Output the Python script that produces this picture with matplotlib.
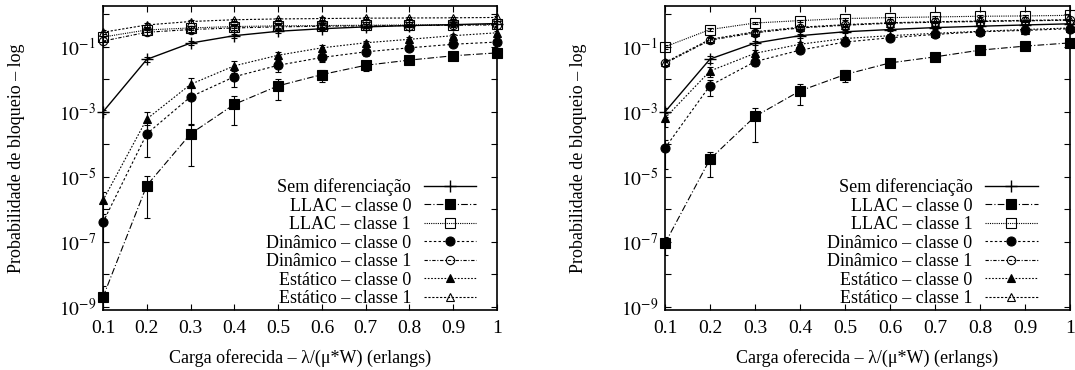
import numpy as np
import matplotlib
matplotlib.use("Agg")
import matplotlib.pyplot as plt
from matplotlib.ticker import FixedLocator, FuncFormatter, NullLocator

# ---------------- data ----------------
carga = [0.1, 0.2, 0.3, 0.4, 0.5, 0.6, 0.7, 0.8, 0.9, 1.0]
xtick_labels = ["0.1", "0.2", "0.3", "0.4", "0.5", "0.6", "0.7", "0.8", "0.9", "1"]
series_names = ["Sem diferenciação", "LLAC – classe 0", "LLAC – classe 1",
                "Dinâmico – classe 0", "Dinâmico – classe 1",
                "Estático – classe 0", "Estático – classe 1"]

# left panel
esq_sem = [1e-3, 0.041, 0.13, 0.22, 0.30, 0.36, 0.41, 0.45, 0.48, 0.52]
esq_llac0 = [2e-9, 5.4e-6, 2.1e-4, 1.7e-3, 6.3e-3, 0.014, 0.027, 0.039, 0.053, 0.065]
esq_llac1 = [0.20, 0.33, 0.38, 0.42, 0.44, 0.45, 0.46, 0.47, 0.48, 0.49]
esq_din0 = [4e-7, 2.1e-4, 2.9e-3, 0.012, 0.027, 0.047, 0.070, 0.093, 0.12, 0.14]
esq_din1 = [0.15, 0.28, 0.34, 0.38, 0.41, 0.43, 0.44, 0.45, 0.46, 0.47]
esq_est0 = [1.9e-6, 6e-4, 7e-3, 0.026, 0.055, 0.093, 0.133, 0.17, 0.22, 0.27]
esq_est1 = [0.28, 0.47, 0.60, 0.68, 0.72, 0.74, 0.76, 0.77, 0.78, 0.80]

esq_err_sem = [1.5e-4, 0.008, 0.02, 0.03, 0.03, 0.03, 0.03, 0.03, 0.03, 0.03]
esq_err_llac0 = [2.5e-9, 5e-6, 2e-4, 1.3e-3, 4e-3, 6e-3, 9e-3, 0.010, 0.012, 0.014]
esq_err_llac1 = [0.05, 0.05, 0.05, 0.05, 0.05, 0.05, 0.05, 0.05, 0.05, 0.05]
esq_err_din0 = [3e-7, 1.7e-4, 2.5e-3, 6e-3, 0.010, 0.013, 0.016, 0.018, 0.020, 0.022]
esq_err_din1 = [0.05, 0.05, 0.05, 0.05, 0.05, 0.05, 0.05, 0.05, 0.05, 0.05]
esq_err_est0 = [1.5e-6, 4e-4, 4e-3, 0.010, 0.015, 0.020, 0.022, 0.024, 0.026, 0.028]
esq_err_est1 = [0.06, 0.06, 0.06, 0.06, 0.06, 0.06, 0.06, 0.06, 0.06, 0.06]

# right panel
dir_sem = [1e-3, 0.042, 0.13, 0.22, 0.29, 0.34, 0.39, 0.43, 0.47, 0.51]
dir_llac0 = [9e-8, 3.5e-5, 7.2e-4, 4.4e-3, 0.014, 0.032, 0.049, 0.079, 0.105, 0.132]
dir_llac1 = [0.10, 0.34, 0.54, 0.64, 0.74, 0.79, 0.83, 0.87, 0.89, 0.93]
dir_din0 = [7.7e-5, 6.4e-3, 0.035, 0.079, 0.14, 0.19, 0.24, 0.29, 0.32, 0.36]
dir_din1 = [0.031, 0.16, 0.27, 0.38, 0.46, 0.53, 0.57, 0.60, 0.63, 0.66]
dir_est0 = [6.4e-4, 0.018, 0.063, 0.12, 0.18, 0.22, 0.26, 0.30, 0.34, 0.38]
dir_est1 = [0.033, 0.17, 0.29, 0.40, 0.48, 0.55, 0.59, 0.62, 0.65, 0.68]

dir_err_sem = [3e-4, 0.010, 0.02, 0.03, 0.03, 0.03, 0.03, 0.03, 0.03, 0.03]
dir_err_llac0 = [5e-8, 2.5e-5, 6e-4, 2.8e-3, 6e-3, 8e-3, 9e-3, 0.010, 0.010, 0.010]
dir_err_llac1 = [0.015, 0.04, 0.05, 0.05, 0.05, 0.05, 0.05, 0.05, 0.05, 0.05]
dir_err_din0 = [6e-5, 3.3e-3, 0.010, 0.015, 0.020, 0.020, 0.020, 0.020, 0.020, 0.020]
dir_err_din1 = [6e-3, 0.03, 0.04, 0.04, 0.04, 0.04, 0.04, 0.04, 0.04, 0.04]
dir_err_est0 = [3e-4, 6e-3, 0.015, 0.020, 0.020, 0.020, 0.020, 0.020, 0.020, 0.020]
dir_err_est1 = [6e-3, 0.03, 0.04, 0.04, 0.04, 0.04, 0.04, 0.04, 0.04, 0.04]

xlabel = "Carga oferecida – λ/(μ*W) (erlangs)"
ylabel = "Probabilidade de bloqueio – log"

# ---------------- style ----------------
plt.rcParams["font.family"] = ["Liberation Serif", "DejaVu Serif"]
plt.rcParams["mathtext.fontset"] = "stix"
FS = 13
TFS = 14

styles = [
    dict(ls="-", lw=1.0, marker="+", ms=8, mew=1.0, mfc="black"),
    dict(ls=(0, (6, 2, 1, 2)), lw=0.8, marker="s", ms=7.5, mfc="black", mew=0.8),
    dict(ls=(0, (1, 1)), lw=0.8, marker="s", ms=6.5, mfc="none", mew=0.8),
    dict(ls=(0, (2.2, 2)), lw=0.8, marker="o", ms=6.5, mfc="black", mew=0.8),
    dict(ls=(0, (3, 1.5, 1, 1.5)), lw=0.8, marker="o", ms=6, mfc="none", mew=0.8),
    dict(ls=(0, (1.5, 1.5)), lw=0.8, marker="^", ms=5.5, mfc="black", mew=0.8),
    dict(ls=(0, (2, 1.5)), lw=0.8, marker="^", ms=5.5, mfc="none", mew=0.8),
]

fig = plt.figure(figsize=(10.75, 3.70), dpi=100)
W, H = 1075.0, 370.0
ax_l = fig.add_axes([103 / W, 1 - 310 / H, 394 / W, 304 / H])
ax_r = fig.add_axes([665 / W, 1 - 310 / H, 405 / W, 304 / H])

panels = [
    (ax_l, [esq_sem, esq_llac0, esq_llac1, esq_din0, esq_din1, esq_est0, esq_est1],
     [esq_err_sem, esq_err_llac0, esq_err_llac1, esq_err_din0, esq_err_din1, esq_err_est0, esq_err_est1],
     0.947),
    (ax_r, [dir_sem, dir_llac0, dir_llac1, dir_din0, dir_din1, dir_est0, dir_est1],
     [dir_err_sem, dir_err_llac0, dir_err_llac1, dir_err_din0, dir_err_din1, dir_err_est0, dir_err_est1],
     0.92),
]

def fmt(v, pos):
    e = int(round(np.log10(v)))
    if e % 2 == 0:
        return ""
    return r"$10^{%d}$" % e

for ax, ys, errs, legx in panels:
    handles = []
    for name, y, e, st in zip(series_names, ys, errs, styles):
        y = np.array(y)
        e = np.array(e)
        lower = np.minimum(e, 0.9 * y)
        line, = ax.plot(carga, y, color="black", label=name, clip_on=False, zorder=3, **st)
        ax.errorbar(carga, y, yerr=[lower, e], fmt="none", ecolor="black",
                    elinewidth=0.8, capsize=2.2, capthick=0.8, clip_on=True, zorder=2)
        handles.append(line)
    ax.set_yscale("log")
    ax.set_xlim(0.1, 1.0)
    ax.set_ylim(8e-10, 1.8)
    ax.xaxis.set_major_locator(FixedLocator(carga))
    ax.set_xticklabels(xtick_labels, fontsize=TFS)
    ax.yaxis.set_major_locator(FixedLocator([10.0 ** k for k in range(-9, 1)]))
    ax.yaxis.set_minor_locator(NullLocator())
    ax.yaxis.set_major_formatter(FuncFormatter(fmt))
    ax.tick_params(axis="both", which="major", direction="in", length=4, width=0.8,
                   top=True, right=True, labelsize=TFS)
    ax.tick_params(axis="y", pad=5)
    ax.tick_params(axis="x", pad=7)
    for sp in ax.spines.values():
        sp.set_linewidth(1.2)
    ax.set_xlabel(xlabel, fontsize=FS, labelpad=9)
    ax.set_ylabel(ylabel, fontsize=FS, labelpad=24)
    ax.legend(handles=handles, loc="lower right", bbox_to_anchor=(legx, 0.01),
              frameon=False, fontsize=FS, markerfirst=False, handlelength=2.9,
              handletextpad=0.7, labelspacing=0.08, borderpad=0.0, borderaxespad=0.0)

fig.savefig("out.png", dpi=100)
